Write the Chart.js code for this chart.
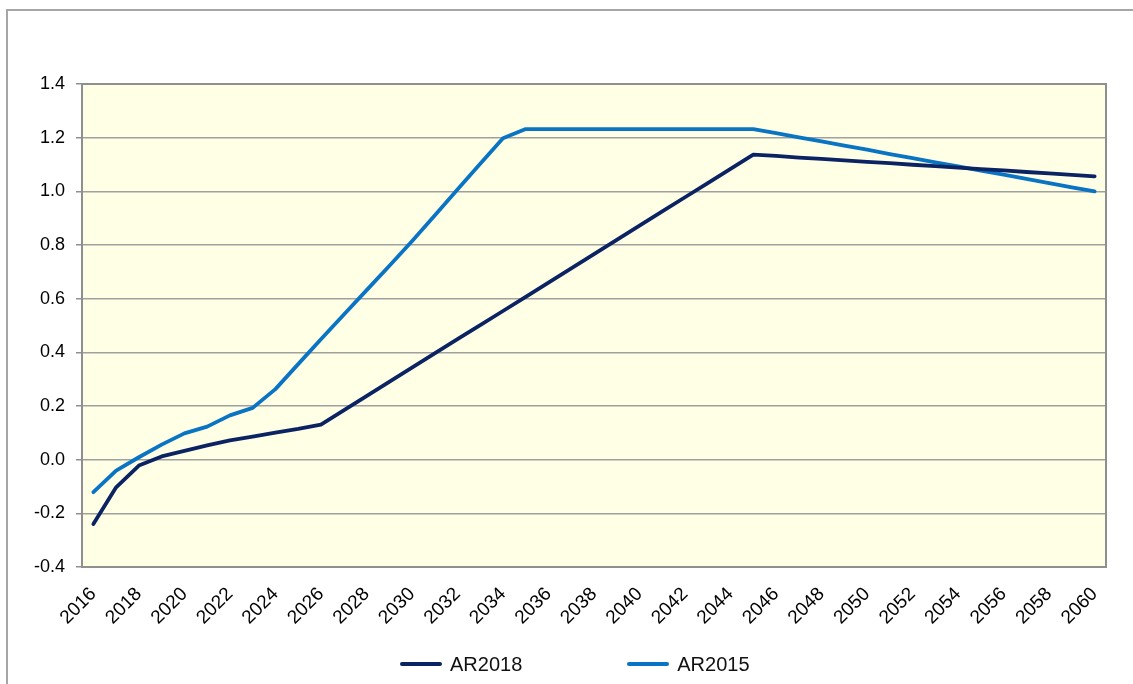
<!DOCTYPE html>
<html>
<head>
<meta charset="utf-8">
<script src="https://cdn.jsdelivr.net/npm/chart.js@4.4.1/dist/chart.umd.min.js"></script>
<style>
  html, body { margin: 0; padding: 0; background: #ffffff; }
  #wrap { position: relative; width: 1133px; height: 684px; overflow: hidden;
          font-family: "Liberation Sans", Arial, sans-serif; }
  #frame { position: absolute; left: 6px; top: 9px; width: 1160px; height: 720px;
           border: 2px solid #a6a6a6; box-sizing: border-box; }
  #chart { position: absolute; left: 0; top: 0; }
  #legend { position: absolute; left: 400px; top: 652px; display: flex; gap: 105px;
            font-size: 20px; color: #111; }
  .item { display: flex; align-items: center; height: 24px; }
  .swatch { width: 42px; height: 4.5px; border-radius: 3px; margin-right: 8px; }
</style>
</head>
<body>
<div id="wrap">
  <div id="frame"></div>
  <canvas id="chart" width="1133" height="684"></canvas>
  <div id="legend"></div>
</div>
<script>
// Years on the category axis
const years = [
  2016, 2017, 2018, 2019, 2020, 2021, 2022, 2023, 2024, 2025,
  2026, 2027, 2028, 2029, 2030, 2031, 2032, 2033, 2034, 2035,
  2036, 2037, 2038, 2039, 2040, 2041, 2042, 2043, 2044, 2045,
  2046, 2047, 2048, 2049, 2050, 2051, 2052, 2053, 2054, 2055,
  2056, 2057, 2058, 2059, 2060
];

// Series names and colours
const seriesNames = ["AR2018", "AR2015"];
const seriesColors = ["#0b2362", "#0a74c4"];

// AR2018 projection
const ar2018 = [
  -0.240, -0.103, -0.022, 0.012, 0.033, 0.053, 0.072, 0.086, 0.101, 0.115,
  0.131, 0.184, 0.237, 0.290, 0.343, 0.396, 0.449, 0.501, 0.554, 0.607,
  0.660, 0.713, 0.766, 0.819, 0.872, 0.925, 0.978, 1.031, 1.084, 1.137,
  1.132, 1.126, 1.121, 1.115, 1.110, 1.105, 1.099, 1.094, 1.088, 1.083,
  1.078, 1.072, 1.067, 1.061, 1.056
];

// AR2015 projection
const ar2015 = [
  -0.121, -0.041, 0.009, 0.056, 0.098, 0.123, 0.165, 0.193, 0.263, 0.356,
  0.449, 0.540, 0.631, 0.722, 0.814, 0.910, 1.007, 1.103, 1.198, 1.232,
  1.232, 1.232, 1.232, 1.232, 1.232, 1.232, 1.232, 1.232, 1.232, 1.232,
  1.217, 1.201, 1.186, 1.170, 1.155, 1.139, 1.124, 1.108, 1.093, 1.077,
  1.062, 1.046, 1.031, 1.015, 1.000
];

// Value axis
const yMin = -0.4, yMax = 1.4, yStep = 0.2;

const seriesValues = [ar2018, ar2015];

// Plot area fill and frame
const plotFrame = {
  id: 'plotFrame',
  beforeDraw(chart) {
    const { ctx, chartArea: a } = chart;
    ctx.save();
    ctx.fillStyle = '#ffffe5';
    ctx.fillRect(a.left, a.top, a.right - a.left, a.bottom - a.top);
    ctx.restore();
  },
  afterDatasetsDraw(chart) {
    const { ctx, chartArea: a } = chart;
    ctx.save();
    ctx.strokeStyle = '#8f8f8f';
    ctx.lineWidth = 2;
    ctx.strokeRect(a.left, a.top, a.right - a.left, a.bottom - a.top);
    ctx.restore();
  }
};

const chart = new Chart(document.getElementById('chart'), {
  type: 'line',
  data: {
    labels: years,
    datasets: seriesNames.map((name, i) => ({
      label: name,
      data: seriesValues[i],
      borderColor: seriesColors[i],
      backgroundColor: seriesColors[i],
      borderWidth: 3.8,
      pointRadius: 0,
      tension: 0,
      borderCapStyle: 'round',
      borderJoinStyle: 'round'
    }))
  },
  options: {
    responsive: false,
    animation: false,
    devicePixelRatio: 1,
    layout: { padding: { top: 84, right: 27, left: 0, bottom: 0 } },
    plugins: {
      legend: { display: false },
      tooltip: { enabled: false }
    },
    scales: {
      x: {
        type: 'category',
        offset: true,
        grid: { display: false, drawTicks: false },
        border: { display: true, color: '#8f8f8f', width: 2 },
        ticks: {
          autoSkip: false,
          minRotation: 45,
          maxRotation: 45,
          padding: 16,
          color: '#000000',
          font: { family: '"Liberation Sans", Arial, sans-serif', size: 19 },
          callback: (v, i) => (i % 2 === 0 ? String(years[i]) : '')
        },
        afterFit(scale) { scale.height = 117; }
      },
      y: {
        min: yMin,
        max: yMax,
        grid: { color: '#a0a0a0', lineWidth: 1.5, tickLength: 6, tickColor: '#8f8f8f' },
        border: { display: true, color: '#8f8f8f', width: 2 },
        ticks: {
          stepSize: yStep,
          padding: 11,
          color: '#000000',
          font: { family: '"Liberation Sans", Arial, sans-serif', size: 18 },
          callback: v => (Math.abs(v) < 1e-9 ? 0 : Number(v)).toFixed(1)
        },
        afterFit(scale) { scale.width = 82; }
      }
    }
  },
  plugins: [plotFrame]
});

// Legend below the chart
const legend = document.getElementById('legend');
chart.data.datasets.forEach(ds => {
  const item = document.createElement('div');
  item.className = 'item';
  const sw = document.createElement('div');
  sw.className = 'swatch';
  sw.style.background = ds.borderColor;
  const txt = document.createElement('span');
  txt.textContent = ds.label;
  item.appendChild(sw);
  item.appendChild(txt);
  legend.appendChild(item);
});
</script>
</body>
</html>
